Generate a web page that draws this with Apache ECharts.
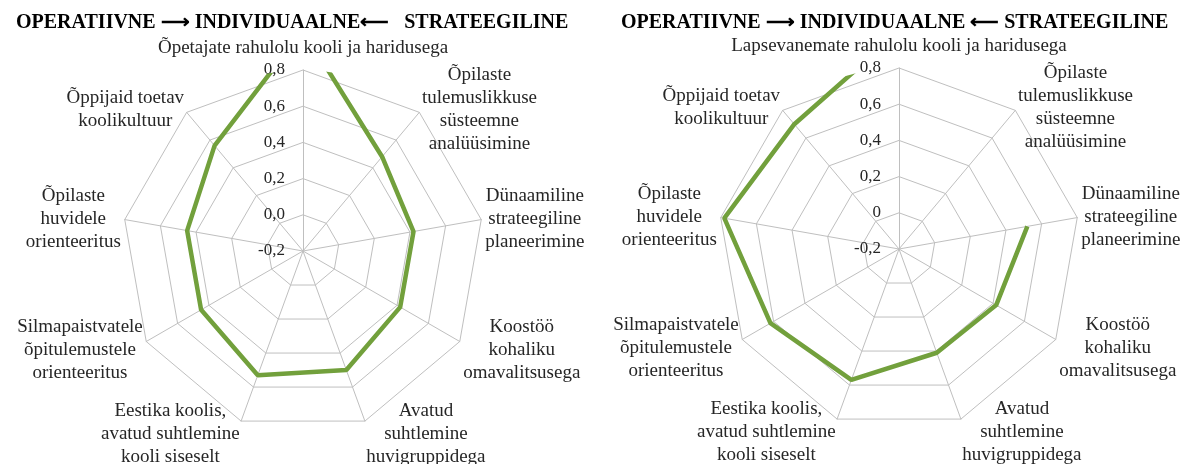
<!DOCTYPE html>
<html>
<head>
<meta charset="utf-8">
<script src="https://cdn.jsdelivr.net/npm/echarts@6/dist/echarts.min.js"></script>
<style>
  html, body { margin: 0; padding: 0; background: #fff; }
  #chart { width: 1181px; height: 464px; }
</style>
</head>
<body>
<div id="chart"></div>
<script>
// pealkirjad
var headLeft = 'OPERATIIVNE \u27F6 INDIVIDUAALNE\u27F5   STRATEEGILINE';
var headRight = 'OPERATIIVNE \u27F6 INDIVIDUAALNE \u27F5 STRATEEGILINE';

// näitajad päripäeva, alates ülevalt
var leftNames = [
  ['Õpetajate rahulolu kooli ja haridusega'],
  ['Õpilaste', 'tulemuslikkuse', 'süsteemne', 'analüüsimine'],
  ['Dünaamiline', 'strateegiline', 'planeerimine'],
  ['Koostöö', 'kohaliku', 'omavalitsusega'],
  ['Avatud', 'suhtlemine', 'huvigruppidega'],
  ['Eestika koolis,', 'avatud suhtlemine', 'kooli siseselt'],
  ['Silmapaistvatele', 'õpitulemustele', 'orienteeritus'],
  ['Õpilaste', 'huvidele', 'orienteeritus'],
  ['Õppijaid toetav', 'koolikultuur']
];
var rightNames = [['Lapsevanemate rahulolu kooli ja haridusega']].concat(leftNames.slice(1));

// väärtused (null = puudub)
var leftValues = [1.02, 0.48, 0.42, 0.42, 0.50, 0.53, 0.45, 0.45, 0.56];
var rightValues = [1.00, null, 0.52, 0.42, 0.41, 0.57, 0.62, 0.78, 0.70];

// skaala märgendid
var leftTicks = ['-0,2', '0,0', '0,2', '0,4', '0,6', '0,8'];
var rightTicks = ['-0,2', '0', '0,2', '0,4', '0,6', '0,8'];

var AX_MIN = -0.2, AX_MAX = 0.8;
var R = 181;
var centerL = [303, 251];
var centerR = [899, 249];
var FONT = 'Liberation Serif';
var GRID = '#bfbfbf';
var TXT = '#262626';
var GREEN = '#72a03c';
// alumiste nimede nihe allapoole (padding top)
var namePadTop = [0, 0, 0, 14, 18, 18, 14, 0, 0];

var chart = echarts.init(document.getElementById('chart'));

function makeRadar(center, names, ticks) {
  var n = names.length;
  var ind = [];
  // echarts paigutab näitajad vastupäeva
  for (var k = 0; k < n; k++) {
    var i = (n - k) % n;
    var o = { name: names[i].join('\n'), min: AX_MIN, max: AX_MAX };
    if (namePadTop[i]) {
      o.nameTextStyle = { padding: [namePadTop[i], 0, 0, 0] };
    }
    if (i === 0) {
      o.nameGap = 10;
      o.axisLabel = {
        show: true,
        margin: 18,
        fontFamily: FONT,
        fontSize: 17,
        color: TXT,
        padding: [0, 0, 6, 0],
        formatter: function (v) {
          return ticks[Math.round((v - AX_MIN) / 0.2)];
        }
      };
    }
    ind.push(o);
  }
  return {
    center: center,
    radius: R,
    startAngle: 90,
    splitNumber: 5,
    shape: 'polygon',
    axisNameGap: 4,
    indicator: ind,
    axisName: {
      color: TXT,
      fontFamily: FONT,
      fontSize: 19,
      formatter: function (name) {
        return name.split('\n').map(function (s) { return '{c|' + s + '}'; }).join('\n');
      },
      rich: {
        c: { align: 'center', fontFamily: FONT, fontSize: 19, color: TXT, lineHeight: 23 }
      }
    },
    axisLine: { lineStyle: { color: GRID, width: 1 } },
    axisTick: { show: false },
    splitLine: { lineStyle: { color: GRID, width: 1 } },
    splitArea: { show: false }
  };
}

function toPolar(values) {
  var pts = values.map(function (v, i) { return [v == null ? '-' : v, i]; });
  pts.push([values[0], values.length]);
  return pts;
}

function axesFor(idx, n) {
  return {
    angle: {
      polarIndex: idx, type: 'value', min: 0, max: n,
      startAngle: 90, clockwise: true, show: false
    },
    radius: {
      polarIndex: idx, type: 'value', min: AX_MIN, max: AX_MAX, show: false
    }
  };
}

var aL = axesFor(0, leftValues.length);
var aR = axesFor(1, rightValues.length);

var titleStyle = { fontFamily: FONT, fontWeight: 'bold', fontSize: 20, color: '#000' };

chart.setOption({
  animation: false,
  backgroundColor: '#fff',
  title: [
    { text: headLeft, left: 11, top: 8, textStyle: titleStyle },
    { text: headRight, left: 616, top: 8, textStyle: titleStyle }
  ],
  radar: [makeRadar(centerL, leftNames, leftTicks), makeRadar(centerR, rightNames, rightTicks)],
  polar: [{ center: centerL, radius: R }, { center: centerR, radius: R }],
  angleAxis: [aL.angle, aR.angle],
  radiusAxis: [aL.radius, aR.radius],
  series: [
    {
      type: 'line', coordinateSystem: 'polar', polarIndex: 0,
      data: toPolar(leftValues), symbol: 'none', clip: true,
      lineStyle: { color: GREEN, width: 4.5 }
    },
    {
      type: 'line', coordinateSystem: 'polar', polarIndex: 1,
      data: toPolar(rightValues), symbol: 'none', clip: true,
      lineStyle: { color: GREEN, width: 4.5 }
    }
  ]
});
</script>
</body>
</html>
